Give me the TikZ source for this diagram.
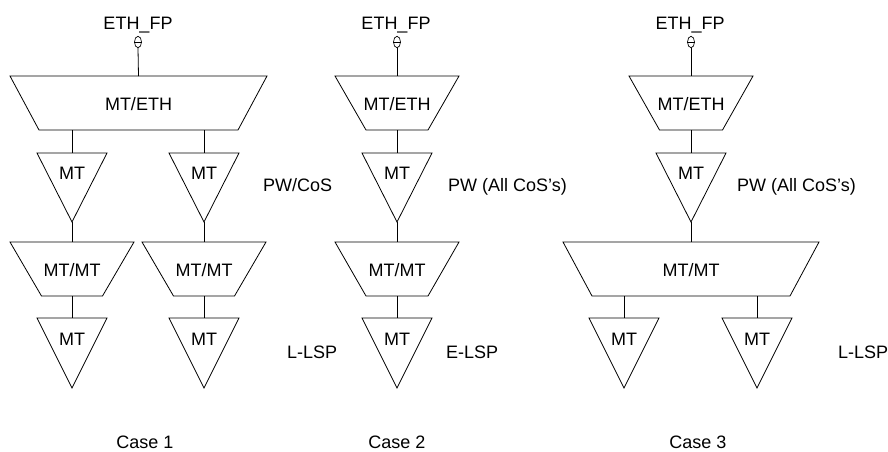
\documentclass[tikz,border=0pt]{standalone}
\usepackage{fontspec}
\setmainfont{Liberation Sans}
\usetikzlibrary{shapes.geometric}
\tikzset{
  shp/.style={draw=black, line width=0.8pt, line join=miter},
  conn/.style={draw=black, line width=0.8pt},
  lbl/.style={font=\fontsize{18}{21}\selectfont, inner sep=0pt, anchor=base},
  lbll/.style={lbl, anchor=base west},
  fpt/.style={ellipse, draw=black, line width=0.7pt, minimum width=7pt, minimum height=11.5pt, inner sep=0pt}
}
% name, cx, ytop, halftop, halfbot, text, text baseline
\newcommand\mytrap[7]{%
  \draw[shp] ({#2-#4},#3) -- ({#2+#4},#3) -- ({#2+#5},{#3+54}) -- ({#2-#5},{#3+54}) -- cycle;
  \node[lbl] (#1) at (#2,#7) {#6};
  \coordinate (#1-t) at (#2,#3);
  \coordinate (#1-b) at (#2,{#3+54});
}
% name, cx, ytop, height, text baseline
\newcommand\mytri[5]{%
  \draw[shp] ({#2-35},#3) -- ({#2+35},#3) -- (#2,{#3+#4}) -- cycle;
  \node[lbl] (#1) at (#2,#5) {MT};
  \coordinate (#1-t) at (#2,#3);
  \coordinate (#1-b) at (#2,{#3+#4});
}
\begin{document}
\begin{tikzpicture}[x=1pt,y=-1pt]
\useasboundingbox (0,0) rectangle (888,451);

% ---------- Case 1 ----------
\node[lbl] (fp1t) at (138,29.5) {ETH\_FP};
\node[fpt] (fp1) at (138,42) {};
\draw[line width=0.7pt] (fp1.west) -- (fp1.east);
\mytrap{eth1}{138.5}{76}{128.5}{99.5}{MT/ETH}{110}
\mytri{pwa}{72}{153}{69}{179.5}
\mytri{pwb}{204}{153}{69}{179.5}
\mytrap{mma}{72}{242}{62}{30.5}{MT/MT}{276.5}
\mytrap{mmb}{204}{242}{62}{30.5}{MT/MT}{276.5}
\mytri{lsa}{72}{318}{70}{345.5}
\mytri{lsb}{204}{318}{70}{345.5}
\draw[conn] (fp1.south) -- (eth1-t |- 0,76);
\draw[conn] (pwa-t |- eth1-b) -- (pwa-t);
\draw[conn] (pwb-t |- eth1-b) -- (pwb-t);
\draw[conn] (pwa-b) -- (mma-t);
\draw[conn] (pwb-b) -- (mmb-t);
\draw[conn] (mma-b) -- (lsa-t);
\draw[conn] (mmb-b) -- (lsb-t);
\node[lbll] (pwcos) at (263,191.5) {PW/CoS};
\node[lbll] (llsp1) at (287,358.5) {L-LSP};
\node[lbl] (case1) at (145,448.5) {Case 1};

% ---------- Case 2 ----------
\node[lbl] (fp2t) at (396,29.5) {ETH\_FP};
\node[fpt] (fp2) at (397,42) {};
\draw[line width=0.7pt] (fp2.west) -- (fp2.east);
\mytrap{eth2}{397}{76}{62}{31}{MT/ETH}{110}
\mytri{pw2}{397}{153}{69}{179.5}
\mytrap{mm2}{397}{242}{62}{31}{MT/MT}{276.5}
\mytri{ls2}{397}{318}{70}{345.5}
\draw[conn] (fp2.south) -- (eth2-t);
\draw[conn] (eth2-b) -- (pw2-t);
\draw[conn] (pw2-b) -- (mm2-t);
\draw[conn] (mm2-b) -- (ls2-t);
\node[lbll] (pwall2) at (448,191.5) {PW (All CoS’s)};
\node[lbll] (elsp) at (446,358.5) {E-LSP};
\node[lbl] (case2) at (397,448.5) {Case 2};

% ---------- Case 3 ----------
\node[lbl] (fp3t) at (690,29.5) {ETH\_FP};
\node[fpt] (fp3) at (691,42) {};
\draw[line width=0.7pt] (fp3.west) -- (fp3.east);
\mytrap{eth3}{691}{76}{62}{31.5}{MT/ETH}{110}
\mytri{pw3}{691}{153}{69}{179.5}
\mytrap{mm3}{691}{242}{128}{99}{MT/MT}{276.5}
\mytri{lsc}{624}{318}{70}{345.5}
\mytri{lsd}{757}{318}{70}{345.5}
\draw[conn] (fp3.south) -- (eth3-t);
\draw[conn] (eth3-b) -- (pw3-t);
\draw[conn] (pw3-b) -- (mm3-t);
\draw[conn] (lsc-t |- mm3-b) -- (lsc-t);
\draw[conn] (lsd-t |- mm3-b) -- (lsd-t);
\node[lbll] (pwall3) at (737,191.5) {PW (All CoS’s)};
\node[lbll] (llsp3) at (838,358.5) {L-LSP};
\node[lbl] (case3) at (698,448.5) {Case 3};
\end{tikzpicture}
\end{document}
